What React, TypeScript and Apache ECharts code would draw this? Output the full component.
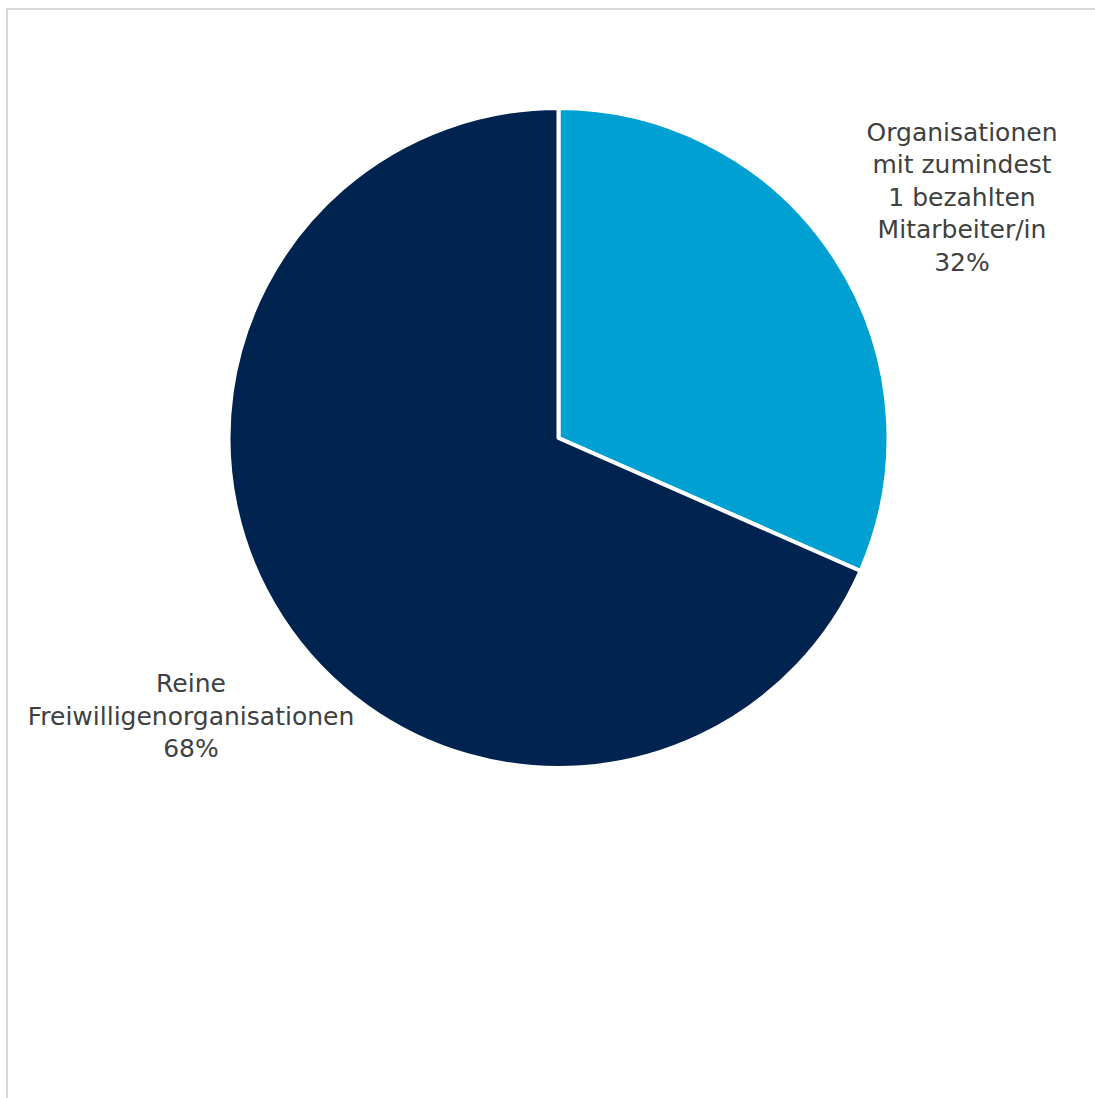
import React, { useEffect, useRef } from "react";
import * as echarts from "echarts";

const categories = [
  "Organisationen\nmit zumindest\n1 bezahlten\nMitarbeiter/in",
  "Reine\nFreiwilligenorganisationen",
];
const values = [31.6, 68.4];
const colors = ["#00A0D3", "#00234F"];

export default function App() {
  const ref = useRef<HTMLDivElement>(null);
  useEffect(() => {
    if (!ref.current) return;
    const chart = echarts.init(ref.current, undefined, { renderer: "svg" });
    const labelPos = [
      { x: 962, y: 197 },
      { x: 191, y: 716 },
    ];
    chart.setOption({
      animation: false,
      backgroundColor: "#ffffff",
      graphic: [
        {
          type: "rect",
          shape: { x: 7, y: 9, width: 1300, height: 1300 },
          style: { fill: "none", stroke: "#d9d9d9", lineWidth: 2 },
          silent: true,
        },
      ],
      series: [
        {
          type: "pie",
          center: [558.5, 438],
          radius: 330,
          startAngle: 90,
          clockwise: true,
          data: categories.map((name, i) => ({
            name,
            value: values[i],
            itemStyle: { color: colors[i] },
          })),
          itemStyle: { borderColor: "#ffffff", borderWidth: 4 },
          label: {
            show: true,
            position: "outside",
            formatter: (p: any) => `${p.name}\n${Math.round(p.percent)}%`,
            fontFamily: "DejaVu Sans",
            fontSize: 25,
            lineHeight: 32.5,
            color: "#404040",
            align: "center",
            overflow: "none",
          },
          labelLine: { show: false },
          labelLayout: (params: any) => {
            const pos = labelPos[params.dataIndex];
            return { x: pos.x, y: pos.y, align: "center", verticalAlign: "middle" };
          },
          emphasis: { disabled: true },
        },
      ],
    });
    return () => chart.dispose();
  }, []);
  return (
    <div
      ref={ref}
      style={{ position: "fixed", left: 0, top: 0, width: 1095, height: 1098 }}
    />
  );
}
